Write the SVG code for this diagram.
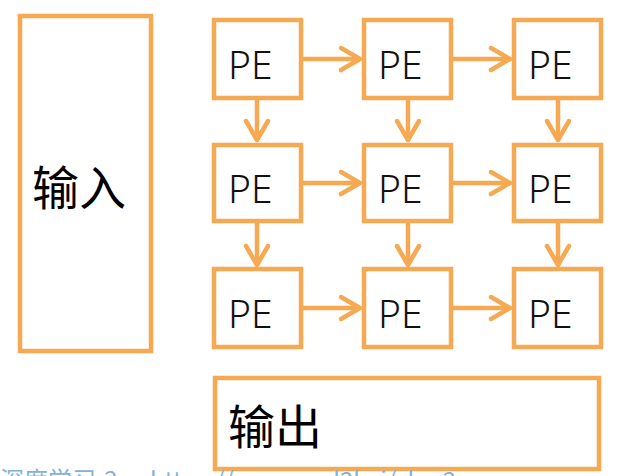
<svg xmlns="http://www.w3.org/2000/svg" width="622" height="476" viewBox="0 0 622 476">
<style>
.box{fill:#fff;stroke:#F5A952;stroke-width:4.5;}
.pe{font-family:"Noto Sans","Noto Sans CJK SC",sans-serif;font-weight:300;font-size:39px;fill:#111;}
.cjk{font-family:"Noto Sans CJK SC",sans-serif;font-size:47px;fill:#000;}
.con{stroke:#F5A952;stroke-width:4.5;fill:none;marker-end:url(#arr);}
.wm{font-family:"Noto Sans CJK SC",sans-serif;font-size:24px;fill:#7FB3D8;}
</style>
<defs>
<marker id="arr" markerUnits="userSpaceOnUse" markerWidth="30" markerHeight="30" viewBox="-26 -15 30 30" refX="0" refY="0" orient="auto">
<path d="M-19,-11 L0,0 L-19,11" fill="none" stroke="#F5A952" stroke-width="4.5" stroke-linecap="round" stroke-linejoin="round"/>
</marker>
</defs>
<rect width="622" height="476" fill="#fff"/>
<g id="input"><rect class="box" x="20" y="16" width="131" height="335"/><text class="cjk" x="32" y="205">输入</text></g>
<g id="output"><rect class="box" x="215" y="378" width="384" height="91"/><text class="cjk" x="228" y="444">输出</text></g>
<g id="pe11"><rect class="box" x="214" y="20" width="87" height="78"/><text class="pe" x="228" y="79">PE</text></g>
<g id="pe12"><rect class="box" x="364" y="20" width="87" height="78"/><text class="pe" x="378" y="79">PE</text></g>
<g id="pe13"><rect class="box" x="514" y="20" width="87" height="78"/><text class="pe" x="528" y="79">PE</text></g>
<g id="pe21"><rect class="box" x="214" y="145" width="87" height="76"/><text class="pe" x="228" y="203">PE</text></g>
<g id="pe22"><rect class="box" x="364" y="145" width="87" height="76"/><text class="pe" x="378" y="203">PE</text></g>
<g id="pe23"><rect class="box" x="514" y="145" width="87" height="76"/><text class="pe" x="528" y="203">PE</text></g>
<g id="pe31"><rect class="box" x="214" y="269" width="87" height="78"/><text class="pe" x="228" y="328">PE</text></g>
<g id="pe32"><rect class="box" x="364" y="269" width="87" height="78"/><text class="pe" x="378" y="328">PE</text></g>
<g id="pe33"><rect class="box" x="514" y="269" width="87" height="78"/><text class="pe" x="528" y="328">PE</text></g>
<g id="connectors">
<line class="con" x1="303" y1="59" x2="360" y2="59"/>
<line class="con" x1="453" y1="59" x2="510" y2="59"/>
<line class="con" x1="303" y1="183" x2="360" y2="183"/>
<line class="con" x1="453" y1="183" x2="510" y2="183"/>
<line class="con" x1="303" y1="308" x2="360" y2="308"/>
<line class="con" x1="453" y1="308" x2="510" y2="308"/>
<line class="con" x1="257" y1="100" x2="257" y2="140"/>
<line class="con" x1="408" y1="100" x2="408" y2="140"/>
<line class="con" x1="558" y1="100" x2="558" y2="140"/>
<line class="con" x1="257" y1="223" x2="257" y2="265"/>
<line class="con" x1="408" y1="223" x2="408" y2="265"/>
<line class="con" x1="558" y1="223" x2="558" y2="265"/>
</g>
<text class="wm" y="489"><tspan x="0">深度学习-2</tspan><tspan x="150">https://courses.d2l.ai/zh-v2</tspan></text>
</svg>
